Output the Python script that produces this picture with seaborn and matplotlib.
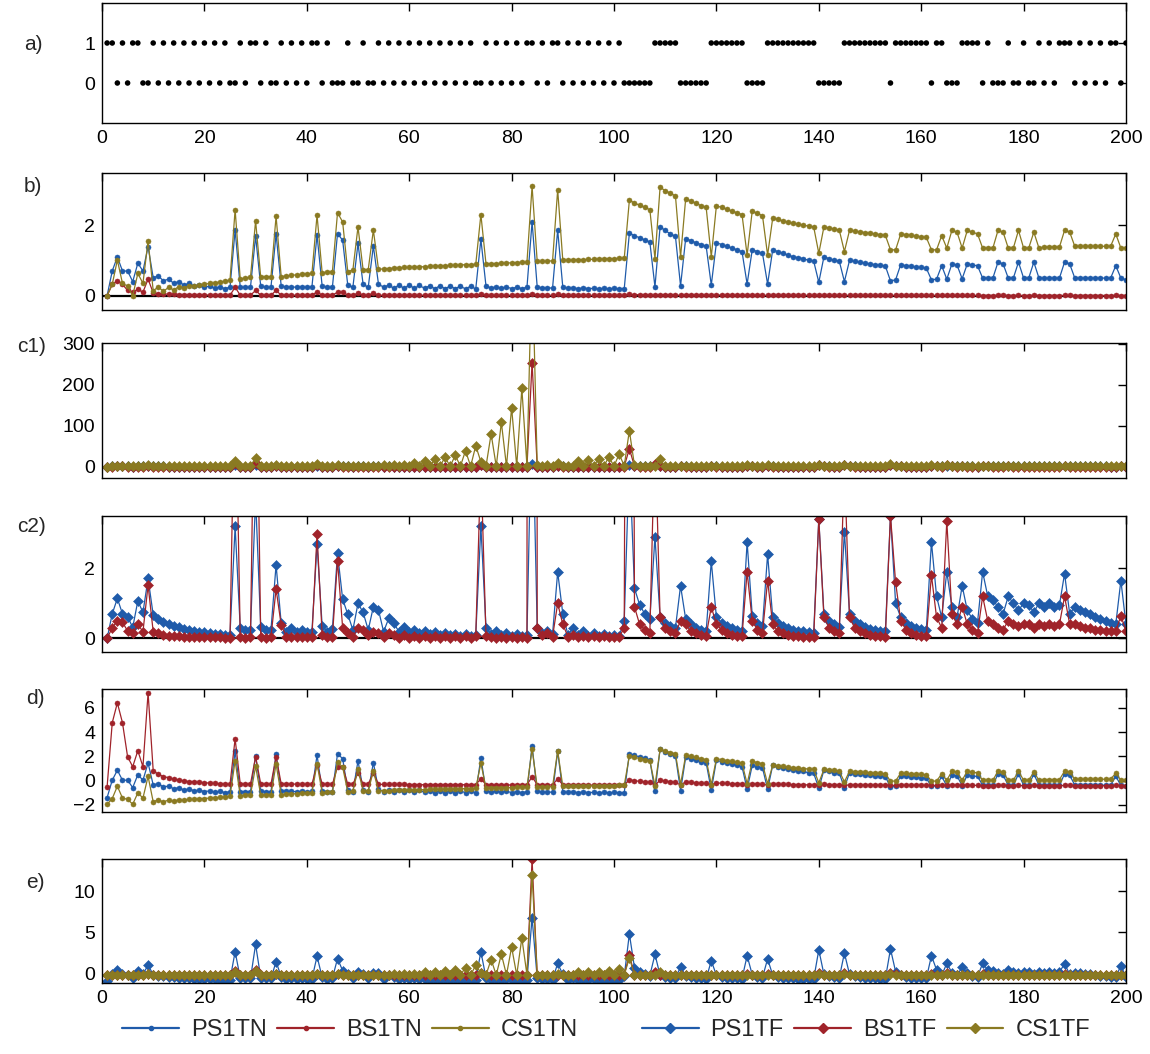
import numpy as np
import matplotlib
matplotlib.use("Agg")
import matplotlib.pyplot as plt
import seaborn as sns
from matplotlib.lines import Line2D

sns.set_theme(style="white")
plt.rcParams["font.family"] = ["Liberation Sans", "DejaVu Sans"]

trials = list(range(1, 201))

# observed binary sequence
obs = [
    1, 1, 0, 1, 0, 1, 1, 0, 0, 1,
    0, 1, 0, 1, 0, 1, 0, 1, 0, 1,
    0, 1, 0, 1, 0, 0, 1, 0, 1, 1,
    0, 1, 0, 0, 1, 0, 1, 0, 1, 0,
    1, 1, 0, 1, 0, 0, 0, 1, 0, 0,
    1, 0, 0, 1, 0, 1, 0, 1, 0, 1,
    0, 1, 0, 1, 0, 1, 0, 1, 0, 1,
    0, 1, 0, 0, 1, 0, 1, 0, 1, 0,
    1, 0, 1, 1, 0, 1, 0, 1, 1, 0,
    1, 0, 1, 0, 1, 0, 1, 0, 1, 0,
    1, 0, 0, 0, 0, 0, 0, 1, 1, 1,
    1, 1, 0, 0, 0, 0, 0, 0, 1, 1,
    1, 1, 1, 1, 1, 0, 0, 0, 0, 1,
    1, 1, 1, 1, 1, 1, 1, 1, 1, 0,
    0, 0, 0, 0, 1, 1, 1, 1, 1, 1,
    1, 1, 1, 0, 1, 1, 1, 1, 1, 1,
    1, 0, 1, 1, 0, 0, 0, 1, 1, 1,
    1, 0, 1, 0, 0, 0, 1, 0, 0, 1,
    0, 0, 1, 0, 1, 0, 1, 1, 1, 0,
    1, 0, 1, 0, 1, 0, 1, 1, 0, 1]

# surprise, TN model
ps1tn = [
    0, .70, 1.10, .70, .70, .40, .92, .70, 1.39, .51,
    .56, .42, .47, .35, .40, .30, .35, .27, .30, .24,
    .27, .21, .25, .20, .24, 1.86, .24, .24, .24, 1.69,
    .27, .24, .24, 1.75, .27, .25, .25, .24, .25, .24,
    .25, 1.72, .27, .24, .24, 1.76, 1.57, .30, .24, 1.48,
    .32, .24, 1.41, .33, .24, .30, .21, .30, .21, .30,
    .21, .29, .21, .28, .20, .28, .20, .27, .20, .27,
    .19, .27, .19, 1.60, .27, .22, .25, .21, .25, .20,
    .24, .20, .24, 2.09, .25, .22, .22, .22, 1.86, .24,
    .21, .22, .20, .22, .20, .21, .19, .21, .19, .21,
    .19, .20, 1.77, 1.70, 1.64, 1.58, 1.52, .25, 1.95, 1.85,
    1.75, 1.68, .28, 1.62, 1.56, 1.50, 1.45, 1.40, .30, 1.50,
    1.45, 1.40, 1.35, 1.30, 1.25, .33, 1.30, 1.25, 1.20, .33,
    1.30, 1.25, 1.20, 1.15, 1.10, 1.08, 1.05, 1.00, .98, .38,
    1.10, 1.05, 1.00, .98, .40, 1.00, .97, .95, .92, .90,
    .88, .86, .84, .42, .45, .88, .85, .83, .81, .80,
    .78, .45, .47, .85, .47, .90, .87, .48, .90, .87,
    .85, .50, .50, .50, .95, .90, .50, .50, .95, .50,
    .50, .95, .50, .50, .50, .50, .50, .95, .90, .50,
    .50, .50, .50, .50, .50, .50, .50, .85, .50, .45]

bs1tn = [
    0, .32, .42, .32, .15, .10, .18, .10, .47, .08,
    .062, .05, .045, .037, .034, .029, .026, .024, .022, .02,
    .018, .016, .015, .013, .012, .24, .014, .013, .013, .15,
    .014, .013, .013, .15, .014, .013, .013, .013, .012, .012,
    .012, .11, .013, .012, .012, .10, .10, .013, .012, .07,
    .013, .012, .07, .012, .011, .011, .011, .011, .011, .010,
    .010, .010, .010, .010, .010, .010, .010, .010, .010, .010,
    .010, .010, .010, .04, .010, .009, .009, .009, .009, .009,
    .009, .009, .009, .05, .010, .009, .009, .009, .04, .009,
    .008, .008, .008, .008, .008, .008, .008, .008, .008, .008,
    .008, .008, .035, .030, .027, .024, .022, .008, .032, .028,
    .025, .022, .008, .024, .021, .019, .017, .016, .008, .019,
    .017, .016, .015, .014, .013, .008, .015, .013, .012, .008,
    .013, .012, .011, .011, .010, .010, .010, .009, .009, .007,
    .011, .010, .009, .009, .007, .009, .009, .008, .008, .008,
    .008, .007, .007, .006, .006, .008, .007, .007, .007, .007,
    .006, .006, .006, .007, .006, .008, .007, .006, .007, .007,
    .006, .005, .005, .005, .007, .006, .005, .005, .006, .005,
    .005, .006, .005, .005, .005, .005, .005, .006, .006, .005,
    .005, .005, .005, .005, .005, .005, .005, .006, .005, .005]

cs1tn = [
    0, .32, 1.01, .35, .27, 0, .63, .35, 1.56, .14,
    .25, .12, .24, .16, .26, .22, .28, .27, .31, .32,
    .35, .36, .39, .41, .44, 2.44, .47, .51, .52, 2.12,
    .52, .54, .54, 2.25, .54, .56, .58, .59, .61, .62,
    .63, 2.28, .65, .67, .68, 2.35, 2.09, .68, .73, 1.95,
    .73, .74, 1.86, .75, .76, .77, .78, .79, .80, .80,
    .81, .82, .82, .83, .84, .84, .85, .86, .86, .87,
    .88, .88, .89, 2.30, .90, .91, .91, .92, .93, .93,
    .94, .95, .95, 3.10, .97, .97, .98, .99, 3.00, 1.00,
    1.01, 1.01, 1.02, 1.02, 1.03, 1.03, 1.04, 1.04, 1.05, 1.05,
    1.06, 1.06, 2.70, 2.63, 2.56, 2.50, 2.44, 1.05, 3.07, 2.98,
    2.90, 2.83, 1.10, 2.75, 2.68, 2.62, 2.55, 2.50, 1.10, 2.55,
    2.50, 2.45, 2.40, 2.35, 2.30, 1.15, 2.40, 2.33, 2.27, 1.15,
    2.20, 2.16, 2.12, 2.08, 2.05, 2.02, 2.00, 1.97, 1.95, 1.20,
    1.95, 1.92, 1.89, 1.86, 1.25, 1.85, 1.83, 1.81, 1.79, 1.77,
    1.75, 1.73, 1.71, 1.30, 1.30, 1.75, 1.73, 1.71, 1.69, 1.67,
    1.65, 1.30, 1.30, 1.70, 1.35, 1.85, 1.80, 1.35, 1.85, 1.80,
    1.75, 1.35, 1.35, 1.35, 1.85, 1.80, 1.35, 1.35, 1.85, 1.35,
    1.35, 1.80, 1.35, 1.38, 1.38, 1.38, 1.38, 1.85, 1.80, 1.40,
    1.40, 1.40, 1.40, 1.40, 1.40, 1.40, 1.40, 1.75, 1.35, 1.35]

# surprise, TF model
ps1tf = [
    0, .70, 1.14, .70, .62, .31, 1.07, .74, 1.71, .67,
    .55, .48, .41, .36, .31, .27, .24, .21, .19, .17,
    .15, .13, .11, .10, .10, 3.20, .30, .24, .24, 4.00,
    .33, .24, .24, 2.10, .43, .19, .29, .19, .24, .17,
    .19, 2.69, .36, .19, .27, 2.43, 1.12, .69, .24, 1.00,
    .74, .24, .90, .81, .19, .57, .43, .19, .33, .19,
    .25, .15, .20, .12, .17, .10, .15, .10, .13, .08,
    .12, .08, .10, 3.20, .30, .12, .20, .10, .15, .08,
    .12, .07, .10, 6.95, .30, .15, .20, .12, 1.90, .70,
    .10, .30, .10, .20, .08, .15, .08, .12, .07, .10,
    .07, .50, 5.17, 1.43, .96, .70, .55, 2.90, .60, .45,
    .35, .30, 1.50, .55, .40, .30, .25, .20, 2.20, .60,
    .45, .35, .30, .25, .22, 2.75, .65, .45, .35, 2.40,
    .60, .45, .35, .30, .25, .22, .20, .18, .16, 3.40,
    .70, .50, .40, .32, 3.05, .70, .50, .40, .32, .28,
    .25, .22, .20, 3.50, 1.00, .60, .45, .35, .30, .27,
    .25, 2.75, 1.20, .60, 1.90, .90, .60, 1.50, .80, .55,
    .45, 1.90, 1.20, 1.10, .90, .70, 1.20, 1.00, .80, 1.00,
    .95, .75, 1.00, .90, 1.00, .90, .95, 1.85, .70, .90,
    .80, .75, .70, .60, .55, .50, .45, .40, 1.65, .40]

bs1tf = [
    0, .30, .50, .46, .21, .14, .40, .19, 1.52, .19,
    .14, .10, .08, .07, .06, .05, .05, .04, .04, .03,
    .03, .03, .03, .02, .02, 8.0, .05, .02, .04, 10.0,
    .05, .02, .04, 1.41, .38, .05, .05, .04, .04, .04,
    .04, 2.97, .10, .05, .05, 2.22, .30, .14, .05, .29,
    .24, .10, .19, .14, .05, .14, .10, .02, .10, .02,
    .08, .02, .08, .02, .07, .02, .07, .02, .07, .02,
    .07, .02, .08, 5.0, .06, .05, .02, .05, .02, .05,
    .02, .05, .02, 254, .30, .10, .15, .05, 1.0, .40,
    .05, .10, .05, .08, .04, .07, .04, .06, .04, .05,
    .04, .30, 44, .90, .40, .25, .15, 6.0, .60, .30,
    .20, .15, .50, .40, .20, .15, .10, .08, .90, .40,
    .25, .15, .10, .08, .06, 1.90, .50, .25, .15, 1.65,
    .40, .20, .15, .10, .08, .06, .05, .04, .04, 3.40,
    .60, .30, .20, .15, 5.0, .60, .30, .20, .15, .10,
    .08, .06, .05, 3.50, 1.60, .50, .25, .15, .10, .08,
    .06, 1.80, .60, .30, 3.35, .70, .40, .90, .40, .25,
    .15, 1.20, .50, .40, .30, .25, .50, .40, .35, .40,
    .40, .30, .40, .35, .40, .35, .40, 1.20, .40, .40,
    .35, .30, .30, .25, .25, .20, .20, .20, .65, .20]

cs1tf = [
    0, 1.0, 2.0, 1.5, 1.0, .5, 2.0, 1.0, 4.0, 1.0,
    .8, .7, .7, .6, .6, .6, .5, .5, .5, .5,
    .5, .5, .5, .5, .5, 15, 1.0, .5, .5, 22,
    1.0, .5, .5, 4.0, 1.0, .5, .8, .5, .8, .5,
    .8, 6.0, 1.0, .8, 1.0, 5.0, 2.0, 1.5, 1.0, 2.0,
    1.5, 1.0, 2.0, 2.0, 3.0, 1.0, 4.0, 1.0, 5.0, 1.0,
    8, 1, 15, 1, 18, 1, 23, 1, 28, 1,
    39, 1, 51, 12, 1, 80, 1, 108, 1, 144,
    1, 191, 2, 516, 3, 1, 3, 1, 8, 2,
    1, 2, 15, 1, 16, 1, 19, 1, 24, 1,
    31, 2, 88, 3, 2, 1, 1, 1, 18, 1,
    1, 1, 2, 1, 1, 1, 1, 1, 2, 1,
    1, 1, 1, 1, 1, 3, 1, 1, 1, 3,
    1, 1, 1, 1, 1, 1, 1, 1, 1, 5,
    1, 1, 1, 1, 4, 1, 1, 1, 1, 1,
    1, 1, 1, 6, 2, 1, 1, 1, 1, 1,
    1, 3, 1, 1, 4, 1, 1, 2, 1, 1,
    1, 2, 1, 1, 1, 1, 1, 1, 1, 1,
    1, 1, 1, 1, 1, 1, 1, 2, 1, 1,
    1, 1, 1, 1, 1, 1, 1, 1, 1, 1]

# standardised TN surprise
ps1tn_z = [
    -1.39, .04, .86, .04, .04, -.57, .49, .04, 1.45, -.35,
    -.24, -.53, -.43, -.67, -.57, -.78, -.67, -.84, -.78, -.90,
    -.84, -.96, -.88, -.98, -.90, 2.41, -.90, -.90, -.90, 2.06,
    -.84, -.90, -.90, 2.18, -.84, -.88, -.88, -.90, -.88, -.90,
    -.88, 2.12, -.84, -.90, -.90, 2.20, 1.82, -.78, -.90, 1.63,
    -.73, -.90, 1.49, -.71, -.90, -.78, -.96, -.78, -.96, -.78,
    -.96, -.80, -.96, -.82, -.98, -.82, -.98, -.84, -.98, -.84,
    -1.00, -.84, -1.00, 1.88, -.84, -.94, -.88, -.96, -.88, -.98,
    -.90, -.98, -.90, 2.88, -.88, -.94, -.94, -.94, 2.41, -.90,
    -.96, -.94, -.98, -.94, -.98, -.96, -1.00, -.96, -1.00, -.96,
    -1.00, -.98, 2.22, 2.08, 1.96, 1.84, 1.71, -.88, 2.59, 2.39,
    2.18, 2.04, -.82, 1.92, 1.80, 1.67, 1.57, 1.47, -.78, 1.67,
    1.57, 1.47, 1.37, 1.27, 1.16, -.71, 1.27, 1.16, 1.06, -.71,
    1.27, 1.16, 1.06, .96, .86, .82, .76, .65, .61, -.61,
    .86, .76, .65, .61, -.57, .65, .59, .55, .49, .45,
    .41, .37, .33, -.53, -.47, .41, .35, .31, .27, .24,
    .20, -.47, -.43, .35, -.43, .45, .39, -.41, .45, .39,
    .35, -.37, -.37, -.37, .55, .45, -.37, -.37, .55, -.37,
    -.37, .55, -.37, -.37, -.37, -.37, -.37, .55, .45, -.37,
    -.37, -.37, -.37, -.37, -.37, -.37, -.37, .35, -.37, -.47]

bs1tn_z = [
    -.49, 4.77, 6.41, 4.77, 1.97, 1.15, 2.47, 1.15, 7.24, .82,
    .53, .33, .25, .12, .07, -.02, -.07, -.10, -.13, -.16,
    -.20, -.23, -.25, -.28, -.30, 3.45, -.26, -.28, -.28, 1.97,
    -.26, -.28, -.28, 1.97, -.26, -.28, -.28, -.28, -.30, -.30,
    -.30, 1.32, -.28, -.30, -.30, 1.15, 1.15, -.28, -.30, .66,
    -.28, -.30, .66, -.30, -.31, -.31, -.31, -.31, -.31, -.33,
    -.33, -.33, -.33, -.33, -.33, -.33, -.33, -.33, -.33, -.33,
    -.33, -.33, -.33, .16, -.33, -.35, -.35, -.35, -.35, -.35,
    -.35, -.35, -.35, .33, -.33, -.35, -.35, -.35, .16, -.35,
    -.36, -.36, -.36, -.36, -.36, -.36, -.36, -.36, -.36, -.36,
    -.36, -.36, .08, 0, -.05, -.10, -.13, -.36, .03, -.03,
    -.08, -.13, -.36, -.10, -.15, -.18, -.21, -.23, -.36, -.18,
    -.21, -.23, -.25, -.26, -.28, -.36, -.25, -.28, -.30, -.36,
    -.28, -.30, -.31, -.31, -.33, -.33, -.33, -.35, -.35, -.38,
    -.31, -.33, -.35, -.35, -.38, -.35, -.35, -.36, -.36, -.36,
    -.36, -.38, -.38, -.39, -.39, -.36, -.38, -.38, -.38, -.38,
    -.39, -.39, -.39, -.38, -.39, -.36, -.38, -.39, -.38, -.38,
    -.39, -.41, -.41, -.41, -.38, -.39, -.41, -.41, -.39, -.41,
    -.41, -.39, -.41, -.41, -.41, -.41, -.41, -.39, -.39, -.41,
    -.41, -.41, -.41, -.41, -.41, -.41, -.41, -.39, -.41, -.41]

cs1tn_z = [
    -1.94, -1.47, -.46, -1.43, -1.54, -1.94, -1.01, -1.43, .35, -1.74,
    -1.57, -1.76, -1.59, -1.71, -1.56, -1.62, -1.53, -1.54, -1.49, -1.47,
    -1.43, -1.41, -1.37, -1.34, -1.29, 1.65, -1.25, -1.19, -1.18, 1.18,
    -1.18, -1.15, -1.15, 1.37, -1.15, -1.12, -1.09, -1.07, -1.04, -1.03,
    -1.01, 1.41, -.99, -.96, -.94, 1.51, 1.13, -.94, -.87, .93,
    -.87, -.85, .79, -.84, -.82, -.81, -.79, -.78, -.76, -.76,
    -.75, -.74, -.74, -.72, -.71, -.71, -.69, -.68, -.68, -.66,
    -.65, -.65, -.63, 1.44, -.62, -.60, -.60, -.59, -.57, -.57,
    -.56, -.54, -.54, 2.62, -.51, -.51, -.50, -.49, 2.47, -.47,
    -.46, -.46, -.44, -.44, -.43, -.43, -.41, -.41, -.40, -.40,
    -.38, -.38, 2.03, 1.93, 1.82, 1.74, 1.65, -.40, 2.57, 2.44,
    2.32, 2.22, -.32, 2.10, 2.00, 1.91, 1.81, 1.74, -.32, 1.81,
    1.74, 1.66, 1.59, 1.51, 1.44, -.25, 1.59, 1.49, 1.40, -.25,
    1.29, 1.24, 1.18, 1.12, 1.07, 1.03, 1.00, .96, .93, -.18,
    .93, .88, .84, .79, -.10, .78, .75, .72, .69, .66,
    .63, .60, .57, -.03, -.03, .63, .60, .57, .54, .51,
    .49, -.03, -.03, .56, .04, .78, .71, .04, .78, .71,
    .63, .04, .04, .04, .78, .71, .04, .04, .78, .04,
    .04, .71, .04, .09, .09, .09, .09, .78, .71, .12,
    .12, .12, .12, .12, .12, .12, .12, .63, .04, .04]

# standardised TF surprise
ps1tf_z = [
    -.87, -.10, .39, -.10, -.19, -.53, .31, -.06, 1.01, -.13,
    -.26, -.34, -.42, -.47, -.53, -.57, -.61, -.64, -.66, -.68,
    -.71, -.73, -.75, -.76, -.76, 2.66, -.54, -.61, -.61, 3.54,
    -.51, -.61, -.61, 1.44, -.40, -.66, -.55, -.66, -.61, -.68,
    -.66, 2.09, -.47, -.66, -.57, 1.81, .36, -.11, -.61, .23,
    -.06, -.61, .12, .02, -.66, -.24, -.40, -.66, -.51, -.66,
    -.60, -.71, -.65, -.74, -.68, -.76, -.71, -.76, -.73, -.78,
    -.74, -.78, -.76, 2.66, -.54, -.74, -.65, -.76, -.71, -.78,
    -.74, -.79, -.76, 6.79, -.54, -.71, -.65, -.74, 1.22, -.10,
    -.76, -.54, -.76, -.65, -.78, -.71, -.78, -.74, -.79, -.76,
    -.79, -.32, 4.83, .71, .19, -.10, -.26, 2.33, -.21, -.37,
    -.49, -.54, .78, -.26, -.43, -.54, -.60, -.65, 1.55, -.21,
    -.37, -.49, -.54, -.60, -.63, 2.16, -.15, -.37, -.49, 1.78,
    -.21, -.37, -.49, -.54, -.60, -.63, -.65, -.67, -.69, 2.88,
    -.10, -.32, -.43, -.52, 2.49, -.10, -.32, -.43, -.52, -.56,
    -.60, -.63, -.65, 2.99, .23, -.21, -.37, -.49, -.54, -.57,
    -.60, 2.16, .45, -.21, 1.22, .12, -.21, .78, .01, -.26,
    -.37, 1.22, .45, .34, .12, -.10, .45, .23, .01, .23,
    .18, -.04, .23, .12, .23, .12, .18, 1.17, -.10, .12,
    .01, -.04, -.10, -.21, -.26, -.32, -.37, -.43, .95, -.43]

bs1tf_z = [
    -.18, -.17, -.16, -.16, -.17, -.18, -.16, -.17, -.10, -.17,
    -.18, -.18, -.18, -.18, -.18, -.18, -.18, -.18, -.18, -.18,
    -.18, -.18, -.18, -.18, -.18, .26, -.18, -.18, -.18, .37,
    -.18, -.18, -.18, -.10, -.16, -.18, -.18, -.18, -.18, -.18,
    -.18, -.02, -.18, -.18, -.18, -.06, -.17, -.18, -.18, -.17,
    -.17, -.18, -.17, -.18, -.18, -.18, -.18, -.18, -.18, -.18,
    -.18, -.18, -.18, -.18, -.18, -.18, -.18, -.18, -.18, -.18,
    -.18, -.18, -.18, .10, -.18, -.18, -.18, -.18, -.18, -.18,
    -.18, -.18, -.18, 13.93, -.17, -.18, -.17, -.18, -.13, -.16,
    -.18, -.18, -.18, -.18, -.18, -.18, -.18, -.18, -.18, -.18,
    -.18, -.17, 2.26, -.13, -.16, -.17, -.17, .15, -.15, -.17,
    -.17, -.17, -.16, -.16, -.17, -.17, -.18, -.18, -.13, -.16,
    -.17, -.17, -.18, -.18, -.18, -.08, -.16, -.17, -.17, -.09,
    -.16, -.17, -.17, -.18, -.18, -.18, -.18, -.18, -.18, .01,
    -.15, -.17, -.17, -.17, .10, -.15, -.17, -.17, -.17, -.18,
    -.18, -.18, -.18, .01, -.09, -.16, -.17, -.17, -.18, -.18,
    -.18, -.08, -.15, -.17, .00, -.14, -.16, -.13, -.16, -.17,
    -.17, -.12, -.16, -.16, -.17, -.17, -.16, -.16, -.16, -.16,
    -.16, -.17, -.16, -.16, -.16, -.16, -.16, -.12, -.16, -.16,
    -.16, -.17, -.17, -.17, -.17, -.17, -.17, -.17, -.15, -.17]

cs1tf_z = [
    -.21, -.18, -.16, -.17, -.18, -.20, -.16, -.18, -.11, -.18,
    -.19, -.19, -.19, -.19, -.19, -.19, -.20, -.20, -.20, -.20,
    -.20, -.20, -.20, -.20, -.20, .15, -.18, -.20, -.20, .32,
    -.18, -.20, -.20, -.11, -.18, -.20, -.19, -.20, -.19, -.20,
    -.19, -.06, -.18, -.19, -.18, -.09, -.16, -.17, -.18, -.16,
    -.17, -.18, -.16, -.16, -.14, -.18, -.11, -.18, -.09, -.18,
    -.02, -.18, .15, -.18, .22, -.18, .34, -.18, .46, -.18,
    .72, -.18, 1.01, .08, -.18, 1.70, -.18, 2.36, -.18, 3.22,
    -.18, 4.33, -.16, 12.06, -.14, -.18, -.14, -.18, -.02, -.16,
    -.18, -.16, .15, -.18, .17, -.18, .24, -.18, .36, -.18,
    .53, -.16, 1.89, -.14, -.16, -.18, -.18, -.18, .22, -.18,
    -.18, -.18, -.16, -.18, -.18, -.18, -.18, -.18, -.16, -.18,
    -.18, -.18, -.18, -.18, -.18, -.14, -.18, -.18, -.18, -.14,
    -.18, -.18, -.18, -.18, -.18, -.18, -.18, -.18, -.18, -.09,
    -.18, -.18, -.18, -.18, -.11, -.18, -.18, -.18, -.18, -.18,
    -.18, -.18, -.18, -.06, -.16, -.18, -.18, -.18, -.18, -.18,
    -.18, -.14, -.18, -.18, -.11, -.18, -.18, -.16, -.18, -.18,
    -.18, -.16, -.18, -.18, -.18, -.18, -.18, -.18, -.18, -.18,
    -.18, -.18, -.18, -.18, -.18, -.18, -.18, -.16, -.18, -.18,
    -.18, -.18, -.18, -.18, -.18, -.18, -.18, -.18, -.18, -.18]

xtick_vals = [0, 20, 40, 60, 80, 100, 120, 140, 160, 180, 200]
series_names = ["PS1TN", "BS1TN", "CS1TN", "PS1TF", "BS1TF", "CS1TF"]

BLUE, RED, OLIVE = "#1F5BAA", "#A0232A", "#8A7A22"
FS = 14

fig = plt.figure(figsize=(11.5, 10.54), dpi=100)
W_PX, H_PX = 1150.0, 1054.0
LEFT, RIGHT = 102.0, 1126.0


def make_axes(top, bottom):
    return fig.add_axes([LEFT / W_PX, 1 - bottom / H_PX,
                         (RIGHT - LEFT) / W_PX, (bottom - top) / H_PX])


def style(ax, ylim, yticks, xlabels=False):
    ax.set_xlim(0, 200)
    ax.set_ylim(*ylim)
    ax.set_xticks(xtick_vals)
    ax.set_yticks(yticks)
    ax.set_yticklabels([f"{t:g}".replace("-", "\u2212") for t in yticks])
    if not xlabels:
        ax.set_xticklabels([])
    ax.tick_params(direction="in", top=True, right=True, length=6, width=1.0,
                   labelsize=FS, colors="black", pad=5)
    for s in ax.spines.values():
        s.set_color("black")
        s.set_linewidth(1.0)
    ax.set_xlabel("")
    ax.set_ylabel("")
    ax.grid(False)


def trace(ax, vals, color, marker, ms):
    sns.lineplot(x=trials, y=vals, color=color, marker=marker, markersize=ms,
                 markeredgewidth=0.4, markeredgecolor=color, linewidth=0.9,
                 ax=ax, legend=False)


# a) observations
ax_a = make_axes(3, 123)
sns.scatterplot(x=trials, y=obs, color="black", s=16, edgecolor="none",
                ax=ax_a, legend=False)
style(ax_a, (-1, 2), [0, 1], xlabels=True)

# b) TN surprise
ax_b = make_axes(173, 310)
ax_b.axhline(0, color="black", lw=1.6, zorder=1)
for vals, col in zip([ps1tn, bs1tn, cs1tn], [BLUE, RED, OLIVE]):
    trace(ax_b, vals, col, "o", 3.6)
style(ax_b, (-0.405, 3.476), [0, 2])

# c1) TF surprise
ax_c1 = make_axes(343, 478)
for vals, col in zip([ps1tf, bs1tf, cs1tf], [BLUE, RED, OLIVE]):
    trace(ax_c1, vals, col, "D", 4.6)
style(ax_c1, (-27.6, 301.7), [0, 100, 200, 300])

# c2) TF surprise, close-up
ax_c2 = make_axes(516, 652)
ax_c2.axhline(0, color="black", lw=1.6, zorder=1)
for vals, col in zip([ps1tf, bs1tf], [BLUE, RED]):
    trace(ax_c2, vals, col, "D", 4.6)
style(ax_c2, (-0.39, 3.494), [0, 2])

# d) standardised TN surprise
ax_d = make_axes(689, 812)
for vals, col in zip([ps1tn_z, bs1tn_z, cs1tn_z], [BLUE, RED, OLIVE]):
    trace(ax_d, vals, col, "o", 3.6)
style(ax_d, (-2.58, 7.55), [-2, 0, 2, 4, 6])

# e) standardised TF surprise
ax_e = make_axes(859, 983)
for vals, col in zip([ps1tf_z, bs1tf_z, cs1tf_z], [BLUE, RED, OLIVE]):
    trace(ax_e, vals, col, "D", 4.6)
style(ax_e, (-1.16, 13.96), [0, 5, 10], xlabels=True)

# panel letters
for label, (px, py) in {"a)": (33, 45), "b)": (33, 186), "c1)": (32, 347),
                        "c2)": (32, 526), "d)": (35, 698), "e)": (35, 883)}.items():
    fig.text(px / W_PX, 1 - py / H_PX, label, fontsize=FS + 1,
             ha="center", va="center")

# legends
tn_handles = [Line2D([], [], color=c, marker="o", markersize=3, lw=1.6)
              for c in (BLUE, RED, OLIVE)]
tf_handles = [Line2D([], [], color=c, marker="D", markersize=5, lw=1.6)
              for c in (BLUE, RED, OLIVE)]
leg_kw = dict(ncol=3, frameon=False, fontsize=17, handlelength=2.4,
              handletextpad=0.5, columnspacing=0.45, loc="center",
              borderaxespad=0, borderpad=0)
fig.legend(tn_handles, series_names[:3], bbox_to_anchor=(350 / W_PX, 1 - 1030 / H_PX), **leg_kw)
fig.legend(tf_handles, series_names[3:], bbox_to_anchor=(866 / W_PX, 1 - 1030 / H_PX), **leg_kw)

fig.savefig("out.png", dpi=100)
